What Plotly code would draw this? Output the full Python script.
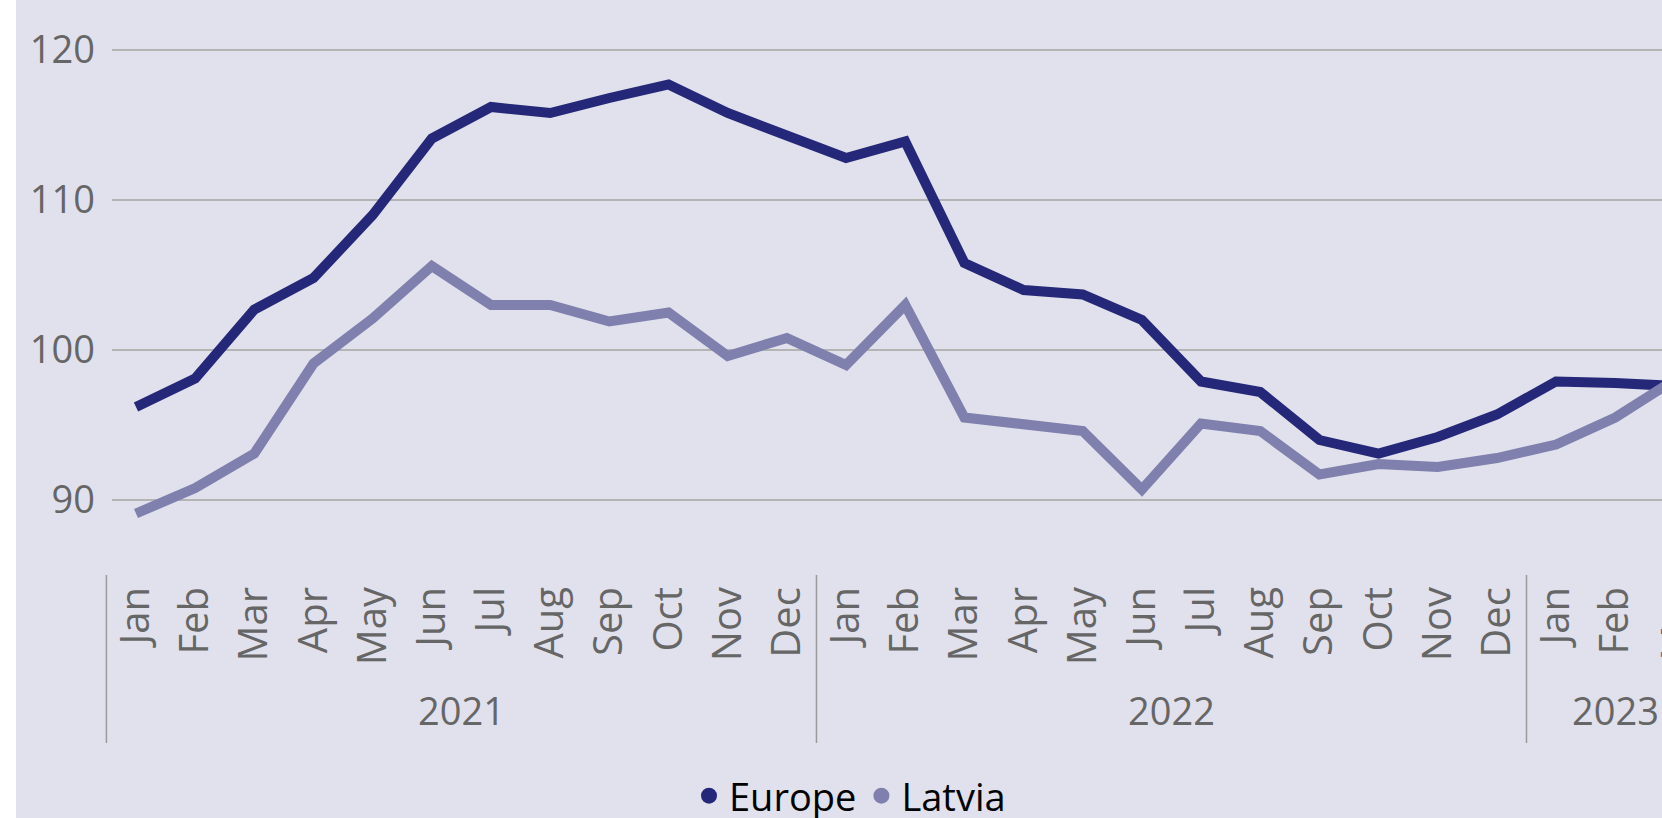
import plotly.graph_objects as go

# ---------------- data ----------------
months = ["Jan", "Feb", "Mar", "Apr", "May", "Jun", "Jul", "Aug", "Sep", "Oct", "Nov", "Dec",
          "Jan", "Feb", "Mar", "Apr", "May", "Jun", "Jul", "Aug", "Sep", "Oct", "Nov", "Dec",
          "Jan", "Feb", "Mar"]
years = ["2021", "2022", "2023"]
year_of_month = ["2021"] * 12 + ["2022"] * 12 + ["2023"] * 3

europe = [96.2, 98.1, 102.7, 104.8, 109.0, 114.1, 116.2, 115.8, 116.8, 117.7, 115.8, 114.3,
          112.8, 113.9, 105.8, 104.0, 103.7, 102.0, 97.9, 97.2, 94.0, 93.1, 94.2, 95.7,
          97.9, 97.8, 97.6]
latvia = [89.1, 90.8, 93.1, 99.1, 102.1, 105.6, 103.0, 103.0, 101.9, 102.5, 99.6, 100.8,
          99.0, 103.0, 95.5, 95.1, 94.6, 90.7, 95.1, 94.6, 91.7, 92.4, 92.2, 92.8,
          93.7, 95.5, 98.0]

y_ticks = [90, 100, 110, 120]

# ---------------- style ----------------
W, H = 1662, 818
BG = "#E1E1ED"
C_EU = "#252878"
C_LV = "#7F80AD"
TXT = "#666666"
FONT = "Open Sans"

M_L = 112
M_T = 20
PLOT_BOTTOM = 560
M_R = 0
M_B = H - PLOT_BOTTOM
plot_w = W - M_L - M_R
plot_h = H - M_T - M_B

STEP = 59.17                       # pixels per month
FIRST = 136                        # x of first month centre
x_range = [(M_L - FIRST) / STEP, (M_L + plot_w - FIRST) / STEP]
y_range = [86, 122]

x_idx = list(range(len(months)))


def sy(py):
    """pixel y -> paper y"""
    return (PLOT_BOTTOM - py) / plot_h


def ix(i):
    """category index -> paper x"""
    return (i - x_range[0]) / (x_range[1] - x_range[0])


fig = go.Figure()
fig.add_trace(go.Scatter(x=x_idx, y=europe, mode="lines", name="Europe",
                         line=dict(color=C_EU, width=10), showlegend=False))
fig.add_trace(go.Scatter(x=x_idx, y=latvia, mode="lines", name="Latvia",
                         line=dict(color=C_LV, width=10), showlegend=False))
# legend entries (circle symbols)
fig.add_trace(go.Scatter(x=[None], y=[None], mode="markers", name="Europe",
                         marker=dict(color=C_EU, size=22, symbol="circle")))
fig.add_trace(go.Scatter(x=[None], y=[None], mode="markers", name="Latvia",
                         marker=dict(color=C_LV, size=22, symbol="circle")))

shapes = []
# white strip at the far left
shapes.append(dict(type="rect", xref="paper", yref="paper",
                   x0=(-M_L - 2) / plot_w, x1=(16 - M_L) / plot_w,
                   y0=-2, y1=2, fillcolor="white", line_width=0, layer="above"))
# year separators
starts = [year_of_month.index(y) for y in years]
for s in starts:
    xp = ix(s - 0.5)
    shapes.append(dict(type="line", xref="paper", yref="paper",
                       x0=xp, x1=xp, y0=sy(575), y1=sy(743),
                       line=dict(color="#9A9A9A", width=1.5)))

annotations = []
for y in years:
    idxs = [i for i, v in enumerate(year_of_month) if v == y]
    cx = (idxs[0] + idxs[-1]) / 2
    annotations.append(dict(xref="paper", yref="paper", x=ix(cx), y=sy(710),
                            text=y, showarrow=False, xanchor="center", yanchor="middle",
                            font=dict(family=FONT, size=38, color=TXT)))
# month labels beyond the visible range (cut at the edge)
for i in x_idx:
    if i > x_range[1]:
        annotations.append(dict(xref="paper", yref="paper", x=ix(i), y=sy(584),
                                text=months[i], showarrow=False, textangle=-90,
                                xanchor="center", yanchor="top",
                                font=dict(family=FONT, size=40, color=TXT)))

fig.update_layout(
    width=W, height=H,
    margin=dict(l=M_L, r=M_R, t=M_T, b=M_B, autoexpand=False),
    paper_bgcolor=BG, plot_bgcolor=BG,
    font=dict(family=FONT, color=TXT),
    shapes=shapes, annotations=annotations,
    showlegend=True,
    legend=dict(orientation="h", xref="paper", yref="paper",
                x=(689 - M_L) / plot_w, xanchor="left",
                y=sy(796), yanchor="middle",
                font=dict(family=FONT, size=38, color="#000000"),
                bgcolor="rgba(0,0,0,0)", itemwidth=30,
                tracegroupgap=0),
    xaxis=dict(range=x_range, tickmode="array", tickvals=x_idx, ticktext=months,
               tickangle=-90, showgrid=False, zeroline=False, showline=False,
               ticks="", ticklabelstandoff=18,
               tickfont=dict(family=FONT, size=40, color=TXT)),
    yaxis=dict(range=y_range, tickmode="array", tickvals=y_ticks,
               showgrid=True, gridcolor="#B4B4B4", gridwidth=2,
               zeroline=False, showline=False, ticks="", ticklabelstandoff=16,
               tickfont=dict(family=FONT, size=38, color=TXT)),
)

fig.write_html("out.html",
               config={"displayModeBar": False},
               post_script="document.body.style.margin='0';"
                           "document.body.style.overflow='hidden';")
